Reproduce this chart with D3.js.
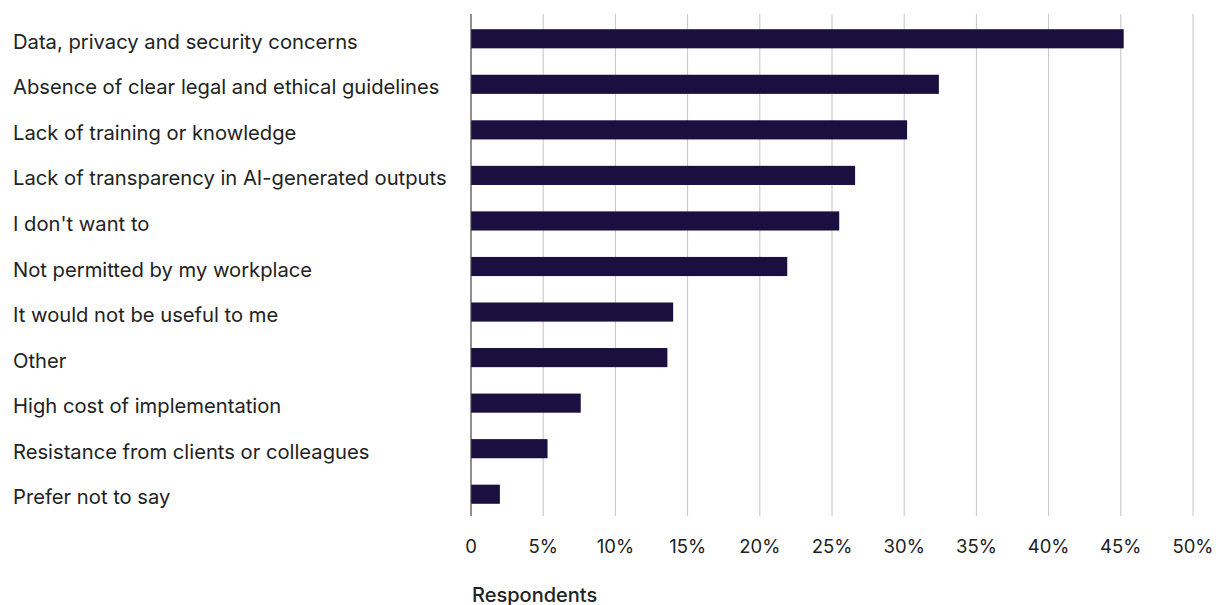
<!DOCTYPE html>
<html>
<head>
<meta charset="utf-8">
<script src="https://cdn.jsdelivr.net/npm/d3@7"></script>
<style>
  html, body { margin: 0; padding: 0; background: #ffffff; }
  svg { display: block; }
  text { font-family: Inter, "Open Sans", sans-serif; fill: #222222; }
</style>
</head>
<body>
<svg id="chart" width="1216" height="605"></svg>
<script>
// Reasons respondents gave for not using AI tools (share of respondents, %)
const categories = [
  "Data, privacy and security concerns",
  "Absence of clear legal and ethical guidelines",
  "Lack of training or knowledge",
  "Lack of transparency in AI-generated outputs",
  "I don't want to",
  "Not permitted by my workplace",
  "It would not be useful to me",
  "Other",
  "High cost of implementation",
  "Resistance from clients or colleagues",
  "Prefer not to say"
];
const values = [45.2, 32.4, 30.2, 26.6, 25.5, 21.9, 14.0, 13.6, 7.6, 5.3, 2.0];
const tickValues = [0, 5, 10, 15, 20, 25, 30, 35, 40, 45, 50];
const tickLabels = ["0", "5%", "10%", "15%", "20%", "25%", "30%", "35%", "40%", "45%", "50%"];
const axisTitle = "Respondents";

const svg = d3.select("#chart");
const plotTop = 14, plotBottom = 516;

const x = d3.scaleLinear().domain([0, 50]).range([471, 1193]);
const y = d3.scaleBand()
  .domain(categories)
  .range([16, 517])
  .paddingInner(0.58)
  .paddingOuter(0.29);

// vertical gridlines
svg.append("g")
  .selectAll("line")
  .data(tickValues.filter(d => d > 0))
  .join("line")
  .attr("x1", d => x(d)).attr("x2", d => x(d))
  .attr("y1", plotTop).attr("y2", plotBottom)
  .attr("stroke", "#c4c4c4")
  .attr("stroke-width", 1);

// bars
svg.append("g")
  .selectAll("rect")
  .data(values)
  .join("rect")
  .attr("x", x(0))
  .attr("y", (d, i) => y(categories[i]))
  .attr("width", d => x(d) - x(0))
  .attr("height", y.bandwidth())
  .attr("fill", "#1a0f3f");

// zero axis line
svg.append("line")
  .attr("x1", x(0)).attr("x2", x(0))
  .attr("y1", plotTop).attr("y2", plotBottom)
  .attr("stroke", "#444444")
  .attr("stroke-width", 1.2);

// category labels
svg.append("g")
  .selectAll("text")
  .data(categories)
  .join("text")
  .attr("x", 13)
  .attr("y", d => y(d) + y.bandwidth() / 2 + 10)
  .attr("font-size", 20.2)
  .text(d => d);

// x axis tick labels
svg.append("g")
  .selectAll("text")
  .data(tickValues)
  .join("text")
  .attr("x", d => x(d))
  .attr("y", 553)
  .attr("text-anchor", "middle")
  .attr("font-size", 18.5)
  .text((d, i) => tickLabels[i]);

// axis title
svg.append("text")
  .attr("x", 472)
  .attr("y", 601.5)
  .attr("font-size", 20)
  .attr("font-weight", 500)
  .text(axisTitle);
</script>
</body>
</html>
